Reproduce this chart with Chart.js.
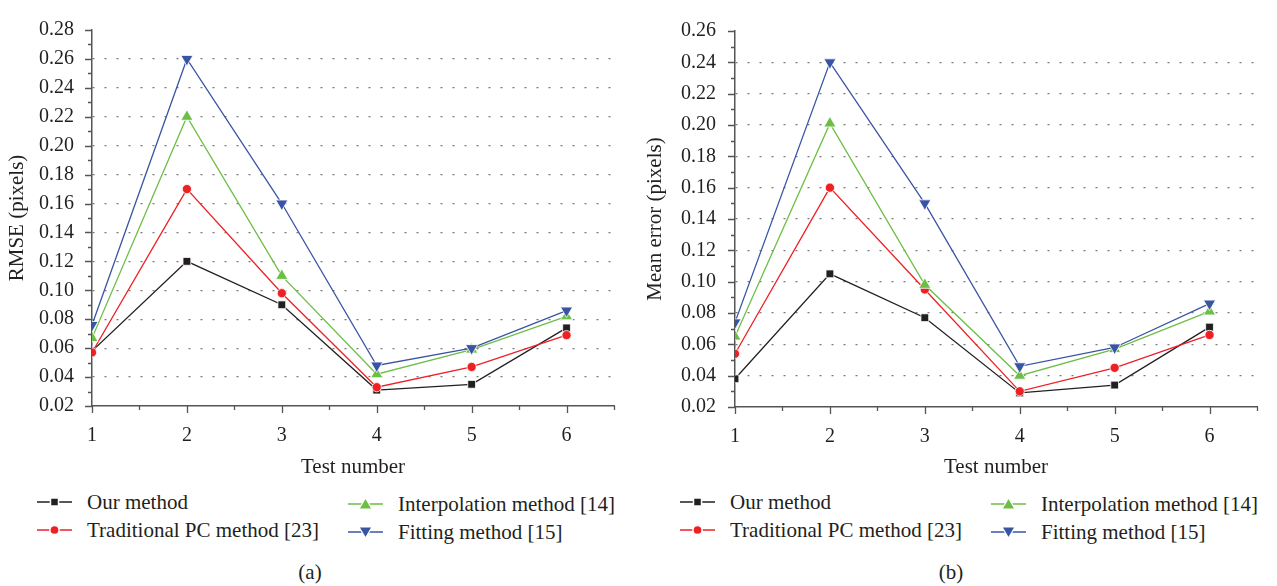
<!DOCTYPE html>
<html>
<head>
<meta charset="utf-8">
<title>RMSE and mean error per test</title>
<script src="https://cdn.jsdelivr.net/npm/chart.js@4.4.1/dist/chart.umd.min.js"></script>
<style>
    body { margin: 0; background: #fff; font-family: 'Liberation Serif', 'Times New Roman', serif; color: #231f20; }
    #page { position: relative; width: 1277px; height: 586px; overflow: hidden; }
    .box { position: absolute; top: 0; width: 640px; height: 490px; }
    .box canvas { display: block; }
    .leg { position: absolute; height: 24px; line-height: 24px; font-size: 21px; white-space: nowrap; }
    .leg svg { position: absolute; left: 0; top: 6px; }
    .leg span { position: absolute; top: 0; }
    .cap { position: absolute; top: 560px; font-size: 21px; transform: translateX(-50%); }
</style>
</head>
<body>
<div id="page">
    <div class="box" style="left:0"><canvas id="chartA" width="640" height="490"></canvas></div>
    <div class="box" style="left:640px;width:637px"><canvas id="chartB" width="637" height="490"></canvas></div>
    <div class="cap" style="left:310px">(a)</div>
    <div class="cap" style="left:951px">(b)</div>
</div>
<script>
// Dữ liệu
var testNumbers = [1, 2, 3, 4, 5, 6];
var seriesNames = ['Our method', 'Traditional PC method [23]', 'Interpolation method [14]', 'Fitting method [15]'];

var rmseOur = [0.058, 0.12, 0.09, 0.031, 0.035, 0.074];
var rmseTraditional = [0.057, 0.17, 0.098, 0.033, 0.047, 0.069];
var rmseInterpolation = [0.067, 0.22, 0.11, 0.042, 0.059, 0.082];
var rmseFitting = [0.076, 0.26, 0.16, 0.048, 0.06, 0.086];

var meanOur = [0.038, 0.105, 0.077, 0.029, 0.034, 0.071];
var meanTraditional = [0.054, 0.16, 0.095, 0.030, 0.045, 0.066];
var meanInterpolation = [0.065, 0.201, 0.098, 0.040, 0.057, 0.081];
var meanFitting = [0.074, 0.24, 0.15, 0.046, 0.058, 0.086];

var colors = ['#231f20', '#ed2024', '#6dbe45', '#3a54a4'];
var pointStyles = ['rect', 'circle', 'triangle', 'triangle'];
var pointRotations = [0, 0, 0, 180];
var pointRadii = [5.5, 4.6, 7, 7];
var axisColor = '#555';
var textColor = '#231f20';
var fontFamily = "'Liberation Serif', 'Times New Roman', serif";

// vẽ vạch chia chính / phụ trên hai trục
var axisTicks = {
    id: 'axisTicks',
    afterDraw: function (chart) {
        var ctx = chart.ctx;
        var x = chart.scales.x;
        var y = chart.scales.y;
        ctx.save();
        ctx.strokeStyle = axisColor;
        ctx.lineWidth = 1.3;
        ctx.beginPath();
        var n = Math.round((y.max - y.min) / 0.01);
        for (var i = 0; i <= n; i++) {
            var py = Math.round(y.getPixelForValue(y.min + i * 0.01)) + 0.5;
            var len = i % 2 === 0 ? 7 : 4;
            ctx.moveTo(x.left - len, py);
            ctx.lineTo(x.left, py);
        }
        var m = Math.round((x.max - x.min) / 0.5);
        for (var j = 0; j <= m; j++) {
            var px = Math.round(x.getPixelForValue(x.min + j * 0.5)) + 0.5;
            var len2 = j % 2 === 0 ? 7 : 4;
            ctx.moveTo(px, y.bottom);
            ctx.lineTo(px, y.bottom + len2);
        }
        ctx.stroke();
        ctx.restore();
    }
};

function makeChart(canvasId, values, yTitle, yMax, axisWidth, padRight, areaBottom, titlePad, labelPad) {
    var datasets = values.map(function (arr, k) {
        return {
            label: seriesNames[k],
            data: arr.map(function (v, i) { return { x: testNumbers[i], y: v }; }),
            borderColor: colors[k],
            backgroundColor: colors[k],
            borderWidth: 1.3,
            pointStyle: pointStyles[k],
            rotation: pointRotations[k],
            pointRadius: pointRadii[k],
            pointHoverRadius: pointRadii[k],
            pointBorderColor: '#fff',
            pointBorderWidth: 0.8,
            pointBackgroundColor: colors[k],
            order: 4 - k,
            tension: 0
        };
    });
    var canvas = document.getElementById(canvasId);
    return new Chart(canvas.getContext('2d'), {
        type: 'line',
        data: { datasets: datasets },
        options: {
            responsive: false,
            maintainAspectRatio: false,
            animation: false,
            layout: { padding: { top: 17, right: padRight, left: 0, bottom: 0 } },
            plugins: { legend: { display: false }, tooltip: { enabled: false } },
            scales: {
                x: {
                    type: 'linear',
                    min: 1,
                    max: 6.5,
                    afterFit: function (s) { s.height = canvas.height - areaBottom; },
                    border: { color: axisColor, width: 1.5 },
                    grid: { drawOnChartArea: false, drawTicks: false },
                    ticks: {
                        stepSize: 1,
                        includeBounds: false,
                        autoSkip: false,
                        maxRotation: 0,
                        padding: 18,
                        color: textColor,
                        font: { family: fontFamily, size: 20 },
                        callback: function (v) { return Number.isInteger(v) ? String(v) : ''; }
                    },
                    title: {
                        display: true,
                        text: 'Test number',
                        color: textColor,
                        font: { family: fontFamily, size: 21 },
                        padding: { top: 0, bottom: 10 }
                    }
                },
                y: {
                    min: 0.02,
                    max: yMax,
                    afterFit: function (s) { s.width = axisWidth; },
                    border: { color: axisColor, width: 1.5, dash: [2, 10] },
                    grid: {
                        drawTicks: false,
                        lineWidth: 1.2,
                        color: function (c) {
                            var v = c.tick ? c.tick.value : 0;
                            return (v <= 0.0201 || v >= yMax - 0.0001) ? 'rgba(0,0,0,0)' : '#7a7a7a';
                        }
                    },
                    ticks: {
                        stepSize: 0.02,
                        padding: labelPad,
                        color: textColor,
                        font: { family: fontFamily, size: 20 },
                        callback: function (v) { return v.toFixed(2); }
                    },
                    title: {
                        display: true,
                        text: yTitle,
                        color: textColor,
                        font: { family: fontFamily, size: 21 },
                        padding: { top: titlePad, bottom: 0 }
                    }
                }
            }
        },
        plugins: [axisTicks]
    });
}

function markerSvg(k) {
    var c = colors[k];
    var shape;
    if (pointStyles[k] === 'rect') {
        shape = '<rect x="13.5" y="2" width="8" height="8" fill="' + c + '" stroke="#fff" stroke-width="1.5"/>';
    } else if (pointStyles[k] === 'circle') {
        shape = '<circle cx="17.5" cy="6" r="4.6" fill="' + c + '" stroke="#fff" stroke-width="1.5"/>';
    } else if (pointRotations[k] === 0) {
        shape = '<polygon points="17.5,0 24,11 11,11" fill="' + c + '" stroke="#fff" stroke-width="1.2"/>';
    } else {
        shape = '<polygon points="11,1 24,1 17.5,12" fill="' + c + '" stroke="#fff" stroke-width="1.2"/>';
    }
    return '<svg width="36" height="13"><line x1="0" y1="6" x2="35" y2="6" stroke="' + c + '" stroke-width="1.4"/>' + shape + '</svg>';
}

// chú thích HTML hai cột
function buildLegend(chart, col1, col2) {
    var page = document.getElementById('page');
    var slots = [
        { x: col1, y: 502 }, { x: col1, y: 530 },
        { x: col2, y: 504 }, { x: col2, y: 532 }
    ];
    chart.data.datasets.forEach(function (ds, k) {
        var div = document.createElement('div');
        div.className = 'leg';
        div.style.left = slots[k].x + 'px';
        div.style.top = (slots[k].y - 12) + 'px';
        div.innerHTML = markerSvg(k) + '<span style="left:50px">' + ds.label + '</span>';
        page.appendChild(div);
    });
}

var chartA = makeChart('chartA', [rmseOur, rmseTraditional, rmseInterpolation, rmseFitting],
    'RMSE (pixels)', 0.28, 92, 26, 406, 5, 18);
var chartB = makeChart('chartB', [meanOur, meanTraditional, meanInterpolation, meanFitting],
    'Mean error (pixels)', 0.26, 95, 20, 407, 3, 19);

buildLegend(chartA, 37, 348);
buildLegend(chartB, 680, 991);
</script>
</body>
</html>
